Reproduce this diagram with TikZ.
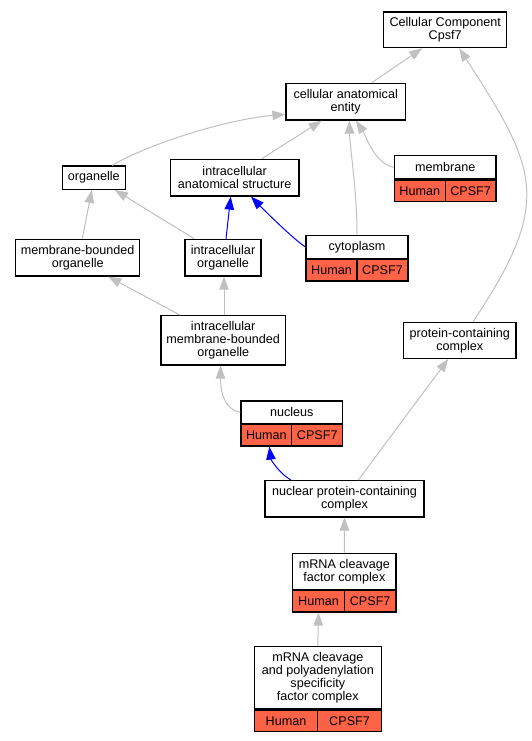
\documentclass[tikz,border=0pt]{standalone}
\usepackage{fontspec}
\setmainfont{Liberation Sans}
\usepackage{tikz}
\usetikzlibrary{positioning, arrows.meta}
\definecolor{edgegray}{RGB}{192,192,192}
\definecolor{tomato}{RGB}{255,99,71}

\begin{document}
\begin{tikzpicture}[x=1pt, y=-1pt,
  term node/.style={rectangle,draw=black,line width=1.2pt,fill=white,inner sep=0pt,
    align=center,font=\fontsize{12.6pt}{13.1pt}\selectfont},
  gene node/.style={term node,fill=tomato,minimum height=21.5pt},
  gray edge/.style={draw=edgegray,line width=1pt,-{Triangle[length=13pt,width=9.5pt]}},
  blue edge/.style={draw=blue,line width=1pt,-{Triangle[length=13pt,width=9.5pt]}}]

\useasboundingbox (0,0) rectangle (532,741);

% terms
\node[term node, minimum width=123pt, minimum height=35.7pt] (ccomp) at (445.2,29.85) {Cellular Component\\Cpsf7};
\node[term node, minimum width=119.3pt, minimum height=36.7pt] (cae) at (345.7,101.7) {cellular anatomical\\entity};
\node[term node, minimum width=63pt, minimum height=23.3pt] (organelle) at (93.8,177.7) {organelle};
\node[term node, minimum width=128.7pt, minimum height=36.7pt] (ias) at (234.7,177.7) {intracellular\\anatomical structure};
\node[term node, minimum width=124pt, minimum height=36.7pt] (mbo) at (77.7,257.7) {membrane-bounded\\organelle};
\node[term node, minimum width=76pt, minimum height=36.7pt] (io) at (223,257.7) {intracellular\\organelle};
\node[term node, minimum width=124.3pt, minimum height=49.3pt] (imbo) at (223.2,340.3) {intracellular\\membrane-bounded\\organelle};
\node[term node, minimum width=112.3pt, minimum height=35.7pt] (pcc) at (459.8,340.5) {protein-containing\\complex};
\node[term node, minimum width=159pt, minimum height=36.3pt] (npc) at (344.5,498.8) {nuclear protein-containing\\complex};

% terms with annotations
\node[term node, minimum width=101.7pt, minimum height=23.3pt] (membrane) at (445.2,167.3) {membrane};
\node[gene node, minimum width=50.85pt, anchor=north west] (membrane-h) at (membrane.south west) {Human};
\node[gene node, minimum width=50.85pt, anchor=north east] (membrane-g) at (membrane.south east) {CPSF7};

\node[term node, minimum width=102pt, minimum height=23pt] (cytoplasm) at (357,246.8) {cytoplasm};
\node[gene node, minimum width=51pt, anchor=north west] (cytoplasm-h) at (cytoplasm.south west) {Human};
\node[gene node, minimum width=51pt, anchor=north east] (cytoplasm-g) at (cytoplasm.south east) {CPSF7};

\node[term node, minimum width=101.7pt, minimum height=22.3pt] (nucleus) at (291.8,412.2) {nucleus};
\node[gene node, minimum width=50.85pt, anchor=north west] (nucleus-h) at (nucleus.south west) {Human};
\node[gene node, minimum width=50.85pt, anchor=north east] (nucleus-g) at (nucleus.south east) {CPSF7};

\node[term node, minimum width=103.3pt, minimum height=36pt] (mcfc) at (344.35,571.3) {mRNA cleavage\\factor complex};
\node[gene node, minimum width=51.65pt, anchor=north west] (mcfc-h) at (mcfc.south west) {Human};
\node[gene node, minimum width=51.65pt, anchor=north east] (mcfc-g) at (mcfc.south east) {CPSF7};

\node[term node, minimum width=127pt, minimum height=62.3pt] (cpsf) at (317.8,677.85) {mRNA cleavage\\and polyadenylation\\specificity\\factor complex};
\node[gene node, minimum width=63.5pt, anchor=north west] (cpsf-h) at (cpsf.south west) {Human};
\node[gene node, minimum width=63.5pt, anchor=north east] (cpsf-g) at (cpsf.south east) {CPSF7};

% is_a edges
\path[gray edge] ([xshift=26pt]cae.north) -- ([xshift=-23pt]ccomp.south);
\path[gray edge] ([xshift=13pt]pcc.north) .. controls (553,202) and (538,170) .. ([xshift=14pt]ccomp.south);
\path[gray edge] ([xshift=18.5pt]organelle.north) .. controls (140,148) and (220,120) .. ([yshift=-12.6pt]cae.west);
\path[gray edge] ([xshift=27pt]ias.north) -- ([xshift=-24pt]cae.south);
\path[gray edge] (cytoplasm.north) .. controls (357,190) and (350,150) .. ([xshift=3.6pt]cae.south);
\path[gray edge] (membrane.west) .. controls (375,164) and (366,136) .. ([xshift=10.3pt]cae.south);
\path[gray edge] ([xshift=4.6pt]mbo.north) -- ([xshift=-2pt]organelle.south);
\path[gray edge] ([xshift=-28.7pt]io.north) -- ([xshift=21pt]organelle.south);
\path[gray edge] ([xshift=-43.2pt]imbo.north) -- ([xshift=30.6pt]mbo.south);
\path[gray edge] ([xshift=0.8pt]imbo.north) -- ([xshift=1pt]io.south);
\path[gray edge] (nucleus.west) .. controls (226,410) and (220.5,395) .. ([xshift=-2.7pt]imbo.south);
\path[gray edge] ([xshift=13.8pt]npc.north) -- ([xshift=-11.5pt]pcc.south);
\path[gray edge] (mcfc.north) -- (npc.south);
\path[gray edge] (cpsf.north) -- (mcfc-h.south);

% part_of edges
\path[blue edge] ([xshift=3pt]io.north) -- ([xshift=-4pt]ias.south);
\path[blue edge] (cytoplasm.west) .. controls (297,242) and (272,218) .. ([xshift=16.3pt]ias.south);
\path[blue edge] ([xshift=-53.5pt]npc.north) .. controls (280,474) and (271,460) .. ([xshift=3pt]nucleus-h.south);

\end{tikzpicture}
\end{document}
